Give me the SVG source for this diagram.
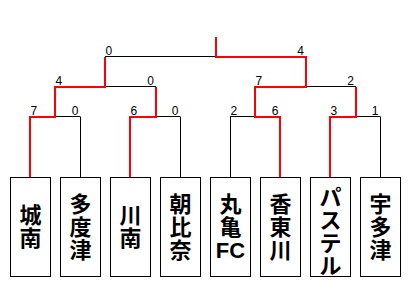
<svg xmlns="http://www.w3.org/2000/svg" width="413" height="305" viewBox="0 0 413 305">
<style>
.bk{fill:none;stroke:#000;stroke-width:1}
.rd{fill:none;stroke:#ff0000;stroke-width:2;stroke-linejoin:miter;stroke-linecap:butt}
.box{fill:#fff;stroke:#000;stroke-width:1}
.sc{font-family:"Liberation Sans",Arial,sans-serif;font-size:12px;fill:#000}
.s{text-anchor:start}
.e{text-anchor:end}
.nm{font-family:"Liberation Sans","Noto Sans CJK JP",sans-serif;font-size:22px;font-weight:bold;text-anchor:middle;fill:#000}
</style>
<rect width="413" height="305" fill="#fff"/>
<g id="connectors">
<path class="bk" d="M80.5 117V177M180.5 117V177M230.5 117V177M380.5 117V177"/>
<path class="bk" d="M55 116.5H80.5M156 116.5H180.5M230 116.5H255M356 116.5H380.5"/>
<path class="bk" d="M105 86.5H156M306 86.5H356"/>
<path class="bk" d="M105 56.5H216"/>
<path class="rd" d="M30 177V117H55V87H105V57"/>
<path class="rd" d="M130 177V117H156V87"/>
<path class="rd" d="M280 177V117H255V87H306V57H216V37"/>
<path class="rd" d="M330 177V117H356V87"/>
</g>
<g id="scores">
<text class="sc s" x="105.5" y="55">0</text>
<text class="sc e" x="304" y="55">4</text>
<text class="sc s" x="55.5" y="85">4</text>
<text class="sc e" x="154" y="85">0</text>
<text class="sc s" x="255.5" y="85">7</text>
<text class="sc e" x="354" y="85">2</text>
<text class="sc s" x="30.5" y="115">7</text>
<text class="sc e" x="78.5" y="115">0</text>
<text class="sc s" x="130.5" y="115">6</text>
<text class="sc e" x="178.5" y="115">0</text>
<text class="sc s" x="230.5" y="115">2</text>
<text class="sc e" x="278.5" y="115">6</text>
<text class="sc s" x="330.5" y="115">3</text>
<text class="sc e" x="378.5" y="115">1</text>
</g>
<g id="team1"><rect class="box" x="10.5" y="177.5" width="40" height="99"/><text class="nm" x="30.5"><tspan x="30.5" y="223">城</tspan><tspan x="30.5" y="246">南</tspan></text></g>
<g id="team2"><rect class="box" x="60.5" y="177.5" width="40" height="99"/><text class="nm" x="80.5"><tspan x="80.5" y="211.5">多</tspan><tspan x="80.5" y="234.5">度</tspan><tspan x="80.5" y="257.5">津</tspan></text></g>
<g id="team3"><rect class="box" x="110.5" y="177.5" width="40" height="99"/><text class="nm" x="130.5"><tspan x="130.5" y="223">川</tspan><tspan x="130.5" y="246">南</tspan></text></g>
<g id="team4"><rect class="box" x="160.5" y="177.5" width="40" height="99"/><text class="nm" x="180.5"><tspan x="180.5" y="211.5">朝</tspan><tspan x="180.5" y="234.5">比</tspan><tspan x="180.5" y="257.5">奈</tspan></text></g>
<g id="team5"><rect class="box" x="210.5" y="177.5" width="40" height="99"/><text class="nm" x="230.5"><tspan x="230.5" y="211.5">丸</tspan><tspan x="230.5" y="234.5">亀</tspan><tspan x="230.5" y="257.5">FC</tspan></text></g>
<g id="team6"><rect class="box" x="260.5" y="177.5" width="40" height="99"/><text class="nm" x="280.5"><tspan x="280.5" y="211.5">香</tspan><tspan x="280.5" y="234.5">東</tspan><tspan x="280.5" y="257.5">川</tspan></text></g>
<g id="team7"><rect class="box" x="310.5" y="177.5" width="40" height="99"/><text class="nm" x="330.5"><tspan x="330.5" y="205">パ</tspan><tspan x="330.5" y="228">ス</tspan><tspan x="330.5" y="251">テ</tspan><tspan x="330.5" y="274">ル</tspan></text></g>
<g id="team8"><rect class="box" x="360.5" y="177.5" width="40" height="99"/><text class="nm" x="380.5"><tspan x="380.5" y="211.5">宇</tspan><tspan x="380.5" y="234.5">多</tspan><tspan x="380.5" y="257.5">津</tspan></text></g>
</svg>
